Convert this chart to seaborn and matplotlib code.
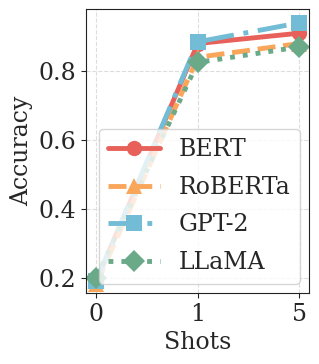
import numpy as np
import pandas as pd
import matplotlib
matplotlib.use('Agg')
import matplotlib.pyplot as plt
import seaborn as sns

shots = ['0', '1', '5']
bert = [0.19, 0.88, 0.91]
roberta = [0.18, 0.84, 0.88]
gpt2 = [0.19, 0.885, 0.94]
llama = [0.20, 0.825, 0.87]

models = ['BERT', 'RoBERTa', 'GPT-2', 'LLaMA']
colors = ['#E8605A', '#F9A65A', '#72BCD5', '#6AAA88']
styles = ['-', '--', (0, (6, 2, 1, 2)), ':']
markers = ['o', '^', 's', 'D']

df = pd.DataFrame({
    'Shots': shots * 4,
    'Accuracy': bert + roberta + gpt2 + llama,
    'Model': sum([[m] * 3 for m in models], []),
})

sns.set_style('ticks')
plt.rcParams['font.family'] = ['DejaVu Serif']

fig, ax = plt.subplots(figsize=(3.19, 3.64), dpi=100)
for m, c, ls, mk in zip(models, colors, styles, markers):
    sub = df[df['Model'] == m]
    sns.lineplot(x=np.arange(3), y=sub['Accuracy'].values, ax=ax, color=c,
                 linestyle=ls, marker=mk, markersize=11, linewidth=3.5,
                 markeredgewidth=0, label=m)

ax.set_xticks(range(3))
ax.set_xticklabels(shots)
ax.set_xlim(-0.1, 2.1)
ax.set_ylim(0.155, 0.98)
ax.set_yticks([0.2, 0.4, 0.6, 0.8])
ax.tick_params(labelsize=17)
ax.set_xlabel('Shots', fontsize=17)
ax.set_ylabel('Accuracy', fontsize=17)
for s in ax.spines.values():
    s.set_color('#222222')
ax.grid(True, linestyle='--', color='#dddddd', linewidth=0.8)
ax.legend(loc='lower right', fontsize=17, handlelength=2.2, fancybox=True,
          framealpha=0.8, borderaxespad=0.4, labelspacing=0.62)

plt.subplots_adjust(left=0.27, right=0.97, bottom=0.195, top=0.975)
plt.savefig('out.png', dpi=100)
